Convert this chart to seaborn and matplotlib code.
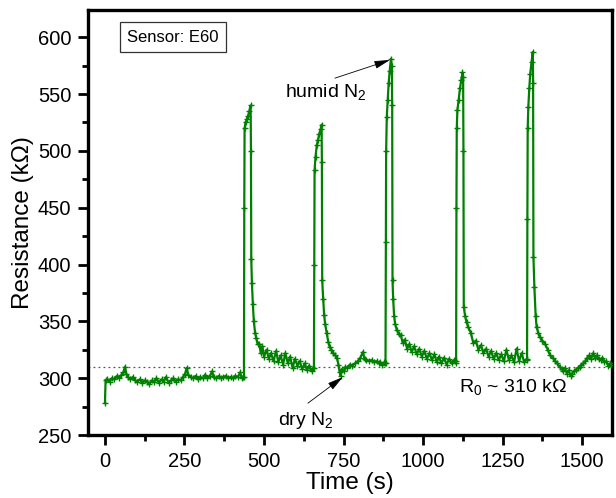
import matplotlib
matplotlib.use("Agg")
import matplotlib.pyplot as plt
import seaborn as sns
import pandas as pd
from matplotlib.ticker import MultipleLocator

sns.set_theme(style="ticks")
plt.rcParams['font.family'] = ['Liberation Sans', 'DejaVu Sans']
plt.rcParams['mathtext.fontset'] = 'custom'
plt.rcParams['mathtext.rm'] = 'Liberation Sans'
plt.rcParams['mathtext.it'] = 'Liberation Sans:italic'
plt.rcParams['text.color'] = 'black'
plt.rcParams['axes.labelcolor'] = 'black'
plt.rcParams['xtick.color'] = 'black'
plt.rcParams['ytick.color'] = 'black'

# ---- data ----
time_s = [
    0, 2, 8, 15, 22, 30, 38, 45, 52, 58, 63, 67, 72, 80, 88, 95, 102, 110, 118, 125,
    132, 140, 148, 155, 162, 170, 178, 185, 192, 200, 208, 215, 222, 230, 238, 245,
    252, 257, 262, 270, 278, 285, 292, 300, 308, 315, 322, 330, 337, 342, 350, 358,
    365, 372, 380, 388, 395, 402, 410, 418, 425, 430, 435,
    437, 438, 439, 442, 446, 450, 454, 458, 459, 460, 462, 465, 468, 472, 476, 480,
    485, 490, 495, 500, 508, 515, 522, 530, 538, 545, 552, 560, 567, 575, 582, 590,
    597, 605, 612, 620, 628, 635, 642, 650, 655,
    657, 658, 659, 662, 666, 670, 674, 678, 681, 682, 683, 686, 689, 692, 697, 702,
    707, 712, 718, 724, 729, 734, 738, 741, 745, 750, 756, 762, 770, 778, 786, 795,
    803, 811, 816, 822, 830, 838, 846, 854, 860, 866, 872, 878, 881,
    882, 883, 884, 886, 889, 892, 895, 899, 902, 903, 904, 906, 909, 912, 918, 924,
    930, 936, 942, 950, 957, 964, 972, 980, 988, 996, 1004, 1012, 1020, 1028, 1036,
    1043, 1050, 1058, 1066, 1074, 1082, 1090, 1098, 1103,
    1104, 1105, 1106, 1108, 1112, 1116, 1120, 1124, 1126, 1127, 1128, 1132, 1137,
    1142, 1150, 1158, 1166, 1174, 1182, 1190, 1198, 1206, 1214, 1222, 1230, 1238,
    1246, 1254, 1262, 1270, 1278, 1286, 1294, 1302, 1310, 1318, 1326,
    1327, 1328, 1329, 1331, 1334, 1337, 1341, 1345, 1346, 1347, 1350, 1354, 1357,
    1362, 1368, 1375, 1384, 1392, 1400, 1408, 1415, 1422, 1430, 1437, 1441, 1446,
    1452, 1458, 1464, 1468, 1474, 1480, 1486, 1492, 1498, 1504, 1510, 1516, 1522,
    1528, 1535, 1540, 1546, 1552, 1558, 1564, 1570, 1576, 1582, 1588, 1592,
]
resistance_kohm = [
    278, 298, 299, 297, 300, 299, 302, 300, 303, 305, 310, 304, 301, 299, 301, 298, 297, 299, 296, 298,
    297, 295, 298, 297, 300, 296, 299, 297, 301, 296, 298, 300, 297, 299, 298, 301,
    304, 309, 303, 301, 300, 302, 299, 301, 300, 303, 300, 302, 306, 301, 300, 302,
    300, 301, 302, 300, 301, 300, 302, 301, 305, 300, 301,
    301, 450, 520, 525, 528, 531, 535, 540, 500, 405, 384, 365, 350, 340, 335, 330,
    330, 322, 328, 319, 325, 317, 322, 315, 324, 314, 320, 312, 322, 313, 319, 309,
    317, 311, 315, 308, 313, 307, 311, 306, 309,
    309, 400, 483, 495, 505, 510, 515, 519, 523, 490, 386, 370, 356, 348, 340, 332,
    327, 325, 322, 320, 318, 312, 305, 302, 308, 306, 310, 309, 312, 311, 313, 315,
    318, 323, 317, 316, 315, 316, 314, 315, 313, 314, 312, 314, 313,
    313, 420, 500, 530, 545, 560, 570, 581, 575, 540, 386, 370, 355, 348, 342, 339,
    338, 331, 334, 326, 330, 323, 328, 321, 326, 319, 324, 317, 322, 316, 321,
    314, 319, 313, 318, 312, 317, 313, 316, 313,
    315, 450, 520, 536, 545, 555, 562, 569, 565, 500, 363, 355, 349,
    345, 340, 331, 333, 325, 329, 322, 326, 319, 324, 317, 322, 316,
    321, 315, 325, 316, 320, 314, 326, 315, 322, 314, 317,
    316, 440, 520, 539, 555, 568, 578, 587, 560, 407, 380, 355, 345,
    340, 336, 333, 330, 325, 320, 318, 315, 313, 310, 308, 306, 309,
    304, 307, 302, 304, 306, 307, 309, 310, 312, 313, 315, 318, 320,
    317, 322, 318, 320, 317, 316, 318, 314, 315, 311, 313, 312,
]
baseline_r0 = 310
x_ticks = [0, 250, 500, 750, 1000, 1250, 1500]
y_ticks = [250, 300, 350, 400, 450, 500, 550, 600]

df = pd.DataFrame({"Time (s)": time_s, "Resistance (kΩ)": resistance_kohm})

fig = plt.figure(figsize=(6.16, 4.98), dpi=100)
ax = fig.add_axes([0.143, 0.1265, 0.8505, 0.8535])
ax.set_facecolor("white")

ax.axhline(baseline_r0, color="#555555", ls=(0, (1.5, 2.5)), lw=0.9, zorder=1)

sns.lineplot(data=df, x="Time (s)", y="Resistance (kΩ)", ax=ax, color="#008000",
             lw=1.6, marker="+", markersize=5, markeredgewidth=1.0,
             markeredgecolor="#008000", markerfacecolor="#008000",
             estimator=None, sort=False, zorder=3)

ax.set_xlim(-53, 1594)
ax.set_ylim(250, 624)
ax.set_xticks(x_ticks)
ax.set_yticks(y_ticks)
ax.xaxis.set_minor_locator(MultipleLocator(125))
ax.yaxis.set_minor_locator(MultipleLocator(25))
ax.tick_params(axis="both", which="major", direction="out", length=7, width=2,
               labelsize=14.5, pad=5, colors="black")
ax.tick_params(axis="both", which="minor", direction="out", length=4, width=2,
               colors="black")
ax.tick_params(top=False, right=False)
for sp in ax.spines.values():
    sp.set_linewidth(2.4)
    sp.set_color("black")
    sp.set_visible(True)

ax.set_xlabel("Time (s)", fontsize=17.5, labelpad=1, color="black")
ax.set_ylabel("Resistance (kΩ)", fontsize=17.5, labelpad=3, color="black")

ax.text(0.162, 0.936, "Sensor: E60", transform=ax.transAxes, fontsize=12,
        ha="center", va="center", color="black",
        bbox=dict(boxstyle="square,pad=0.45", fc="white", ec="#333333", lw=0.9))

arrow = dict(arrowstyle="-|>,head_length=0.8,head_width=0.2", color="black", lw=0.6,
             shrinkA=0, shrinkB=0)
ax.text(566, 552, "humid N$_2$", fontsize=14, ha="left", va="center", color="black")
ax.annotate("", xy=(896, 580), xytext=(723, 564), arrowprops=arrow)
ax.text(544, 263, "dry N$_2$", fontsize=14, ha="left", va="center", color="black")
ax.annotate("", xy=(748, 301), xytext=(638, 278), arrowprops=arrow)
ax.text(1113, 292, "R$_{\\mathregular{0}}$ ~ 310 kΩ", fontsize=14, ha="left",
        va="center", color="black")

fig.savefig("out.png", dpi=100, facecolor="white")
